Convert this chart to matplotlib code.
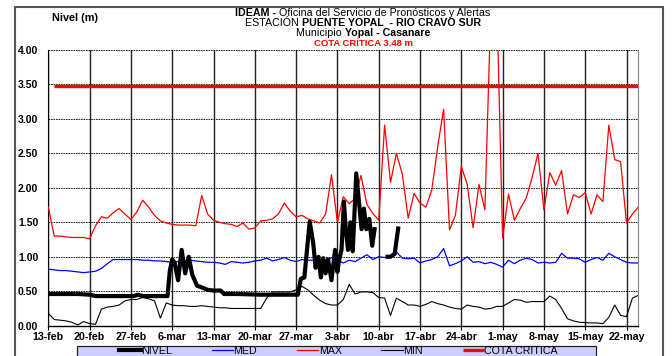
import matplotlib
matplotlib.use('Agg')
import matplotlib.pyplot as plt
import numpy as np
from matplotlib.patches import Rectangle

plt.rcParams['font.family'] = ['Liberation Sans', 'DejaVu Sans']

# ---------------- data (days since 13-feb) ----------------
tick_days = [0, 7, 14, 21, 28, 35, 42, 49, 56, 63, 70, 77, 84, 91, 98]
tick_labels = ['13-feb', '20-feb', '27-feb', '6-mar', '13-mar', '20-mar', '27-mar',
               '3-abr', '10-abr', '17-abr', '24-abr', '1-may', '8-may', '15-may', '22-may']

hist_days = list(range(0, 101))

max_vals = [1.72, 1.30, 1.30, 1.29, 1.28, 1.28, 1.28, 1.26, 1.45, 1.58,
            1.56, 1.64, 1.70, 1.62, 1.54, 1.65, 1.82, 1.72, 1.60, 1.52,
            1.49, 1.47, 1.46, 1.46, 1.46, 1.45, 1.89, 1.62, 1.53, 1.50,
            1.48, 1.47, 1.44, 1.49, 1.40, 1.42, 1.52, 1.53, 1.55, 1.62,
            1.78, 1.66, 1.58, 1.60, 1.55, 1.52, 1.49, 1.62, 2.19, 1.50,
            1.87, 1.77, 1.85, 2.18, 1.76, 1.63, 1.53, 2.91, 2.08, 2.50,
            2.20, 1.56, 1.92, 1.78, 1.72, 1.97, 2.60, 3.14, 1.39, 1.60,
            2.31, 2.05, 1.42, 2.05, 1.68, 4.60, 4.80, 1.27, 1.91, 1.53,
            1.70, 1.85, 2.15, 2.50, 1.68, 2.22, 2.04, 2.25, 1.62, 1.90,
            1.86, 1.93, 1.62, 1.90, 1.80, 2.91, 2.41, 2.38, 1.49, 1.62, 1.72]

med_vals = [0.82, 0.81, 0.80, 0.80, 0.79, 0.78, 0.77, 0.78, 0.79, 0.83,
            0.90, 0.96, 0.96, 0.96, 0.96, 0.96, 0.95, 0.95, 0.94, 0.94,
            0.93, 0.92, 0.93, 0.94, 0.95, 0.94, 0.93, 0.92, 0.92, 0.91,
            0.89, 0.93, 0.92, 0.91, 0.92, 0.94, 0.95, 0.98, 0.94, 0.96,
            0.99, 0.95, 0.93, 0.96, 0.95, 0.95, 0.92, 0.91, 0.99, 0.95,
            0.91, 0.95, 0.93, 0.98, 1.03, 0.96, 1.00, 0.99, 1.00, 1.07,
            0.98, 0.97, 0.98, 0.91, 0.94, 0.96, 1.00, 1.12, 0.87, 0.90,
            0.94, 1.00, 0.92, 0.93, 0.90, 0.92, 0.89, 0.85, 0.95, 0.90,
            0.95, 0.98, 0.96, 0.91, 0.92, 0.91, 0.92, 1.05, 0.98, 0.98,
            0.97, 0.92, 0.96, 0.99, 0.95, 1.05, 1.00, 0.96, 0.92, 0.91, 0.91]

min_vals = [0.18, 0.09, 0.08, 0.07, 0.05, 0.01, 0.06, 0.03, 0.02, 0.24,
            0.27, 0.28, 0.30, 0.36, 0.38, 0.38, 0.41, 0.39, 0.36, 0.11,
            0.33, 0.30, 0.29, 0.29, 0.28, 0.28, 0.29, 0.28, 0.27, 0.26,
            0.26, 0.25, 0.25, 0.25, 0.25, 0.25, 0.25, 0.40, 0.49, 0.49,
            0.49, 0.49, 0.52, 0.57, 0.52, 0.44, 0.37, 0.32, 0.30, 0.30,
            0.38, 0.60, 0.46, 0.49, 0.49, 0.48, 0.41, 0.40, 0.15, 0.40,
            0.35, 0.30, 0.30, 0.28, 0.31, 0.35, 0.32, 0.30, 0.27, 0.25,
            0.24, 0.30, 0.28, 0.27, 0.24, 0.25, 0.28, 0.28, 0.33, 0.38,
            0.37, 0.34, 0.35, 0.35, 0.35, 0.43, 0.38, 0.25, 0.10, 0.07,
            0.05, 0.045, 0.04, 0.04, 0.03, 0.12, 0.30, 0.15, 0.13, 0.40, 0.44]

nivel_days = [0, 3, 5, 6, 7, 8, 12, 14.5, 15.2, 16, 20.2, 20.6, 21.0, 21.4, 22.0,
              22.6, 23.2, 23.8, 24.4, 25.2, 26.2, 27.0, 28.0, 29.2, 29.8, 32, 36,
              40, 42.3, 42.8, 43.4, 44.3, 44.9, 45.3, 45.8, 46.2, 46.6, 47.0, 47.4,
              48.0, 48.6, 49.0, 49.3, 49.7, 50.1, 50.4, 50.8, 51.2, 51.6, 52.2,
              52.7, 53.1, 53.5, 53.9, 54.4, 54.9, 55.3, 56.4, 57.5, 58.0, 58.7, 59.3]
nivel_vals = [0.46, 0.46, 0.46, 0.455, 0.45, 0.43, 0.43, 0.43, 0.45, 0.43, 0.43, 0.80,
              0.96, 0.92, 0.66, 1.10, 0.76, 1.00, 0.74, 0.58, 0.55, 0.52, 0.51, 0.51,
              0.46, 0.46, 0.45, 0.45, 0.45, 0.68, 0.70, 1.51, 1.20, 0.84, 1.00, 0.70,
              0.98, 0.76, 0.96, 0.66, 1.10, 0.78, 0.96, 1.10, 1.80, 1.42, 1.10, 1.50,
              1.08, 2.21, 1.76, 1.40, 1.70, 1.40, 1.55, 1.16, 1.40, np.nan, 1.00,
              1.00, 1.04, 1.41]

cota_days = list(range(1, 101))
cota_val = 3.48

# ---------------- figure ----------------
W, H = 672, 356
fig = plt.figure(figsize=(W / 100, H / 100), dpi=100)


def fx(px):
    return px / W


def fy(py):
    return 1 - py / H


ax = fig.add_axes([fx(48.3), fy(325.7), (638.3 - 48.3) / W, (325.7 - 50) / H])

l_max, = ax.plot(hist_days, max_vals, color='#ff0000', lw=0.9, zorder=3)
l_med, = ax.plot(hist_days, med_vals, color='#0000ff', lw=0.9, zorder=3)
l_min, = ax.plot(hist_days, min_vals, color='black', lw=0.8, zorder=3)
l_cota, = ax.plot(cota_days, [cota_val] * len(cota_days), color='#ff0000', lw=2.4,
                  zorder=4, solid_capstyle='butt')
l_niv, = ax.plot(nivel_days, nivel_vals, color='black', lw=3.0, zorder=5,
                 solid_joinstyle='round')

ax.set_xlim(0, 100)
ax.set_ylim(0, 4)
ax.set_xticks(tick_days)
ax.set_xticklabels(tick_labels)
ax.set_yticks(np.arange(0, 4.01, 0.5))
ax.set_yticklabels(['%.2f' % v for v in np.arange(0, 4.01, 0.5)])
for lb in ax.get_xticklabels() + ax.get_yticklabels():
    lb.set_fontweight('bold')
ax.tick_params(axis='x', direction='out', length=3, width=0.8, pad=1.5,
               labelsize=7.7, colors='black')
ax.tick_params(axis='y', length=0, pad=7.2, labelsize=7.5)

ax.set_axisbelow(True)
ax.yaxis.grid(True, linestyle=(0, (2, 1)), color='black', lw=0.6)
ax.xaxis.grid(True, linestyle='-', color='#222222', lw=1.0)
ax.spines['top'].set_visible(False)
ax.spines['right'].set_color('#888888')
ax.spines['left'].set_color('black')
ax.spines['left'].set_linewidth(0.8)
ax.spines['bottom'].set_linewidth(1.0)

# outer frame
fig.patches.append(Rectangle((fx(14.5), fy(380)), (663 - 14.5) / W, (380 - 7) / H,
                             transform=fig.transFigure, fill=False,
                             edgecolor='#555555', lw=1.5, zorder=0))
# legend box
fig.patches.append(Rectangle((fx(76.7), fy(370)), (596 - 76.7) / W, (370 - 346) / H,
                             transform=fig.transFigure, facecolor='#ccccff',
                             edgecolor='#222222', lw=0.9, zorder=1))

leg = fig.legend([l_niv, l_med, l_max, l_min, l_cota],
                 ['NIVEL', 'MED', 'MAX', 'MIN', 'COTA CRITICA'],
                 loc='center', bbox_to_anchor=(fx(338.7), fy(351)), ncol=5,
                 frameon=False, fontsize=7.7, handlelength=2.0, handletextpad=0.05,
                 columnspacing=3.7, borderpad=0, borderaxespad=0)
leg.set_zorder(5)

# titles
renderer = fig.canvas.get_renderer()


def rich(y_px, parts, cx_px, size):
    objs = []
    total = 0.0
    for s, w, c in parts:
        t = fig.text(0, fy(y_px), s, fontsize=size, fontweight=w, color=c,
                     ha='left', va='center')
        bb = t.get_window_extent(renderer=renderer)
        objs.append((t, bb.width))
        total += bb.width
    x = cx_px - total / 2
    for t, wd in objs:
        t.set_x(fx(x))
        x += wd


rich(12.8, [('IDEAM - ', 'bold', 'black'),
            ('Oficina del Servicio de Pronósticos y Alertas', 'normal', 'black')], 363, 7.7)
rich(22.9, [('ESTACIÓN ', 'normal', 'black'),
            ('PUENTE YOPAL  - RIO CRAVO SUR', 'bold', 'black')], 363, 7.7)
rich(33.0, [('Municipio ', 'normal', 'black'),
            ('Yopal - Casanare', 'bold', 'black')], 363, 7.7)
rich(43.4, [('COTA CRÍTICA 3.48 m', 'bold', '#ff0000')], 363, 6.8)

fig.text(fx(52), fy(18), 'Nivel (m)', fontsize=7.8, fontweight='bold',
         ha='left', va='center')

fig.savefig('out.png', dpi=100)
